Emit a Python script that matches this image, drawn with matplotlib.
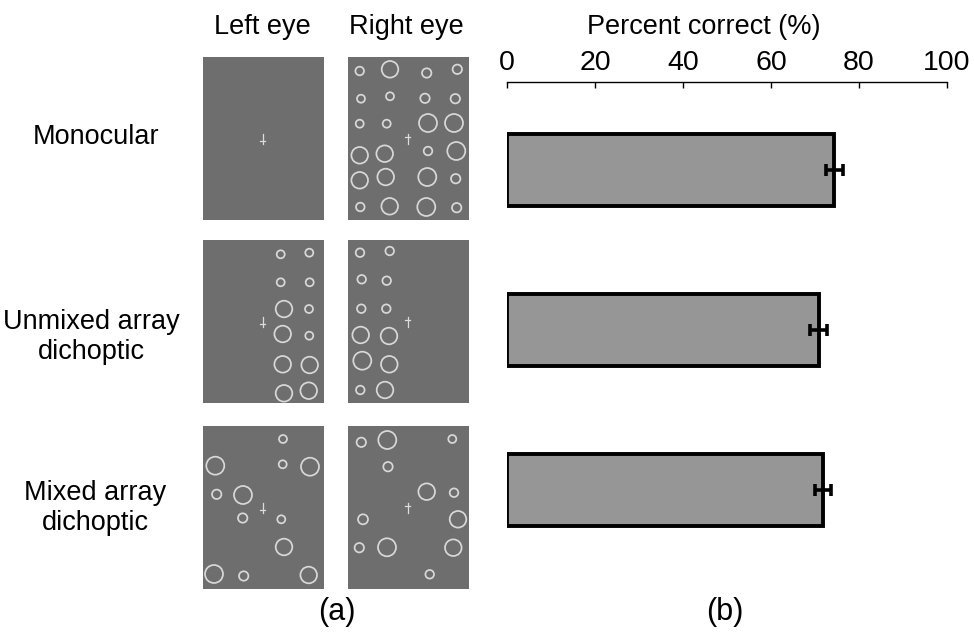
import matplotlib
matplotlib.use('Agg')
import matplotlib.pyplot as plt
from matplotlib.patches import Circle

plt.rcParams['font.family'] = ['Liberation Sans', 'DejaVu Sans']

# data
conditions = ['Monocular', 'Unmixed array\ndichoptic', 'Mixed array\ndichoptic']
pct_correct = [74.4, 70.8, 71.8]
pct_err = [1.9, 1.9, 1.8]
ticks = [0, 20, 40, 60, 80, 100]

# stimulus circles (x, y, r) in panel pixels, panel is 121 x 163
mono_left = []
mono_right = [(11.7, 14, 4.3), (42, 12.3, 8.3), (78.7, 16, 4.7), (109.3, 12.3, 4.7),
              (13, 41.7, 4), (42, 39.3, 4), (77, 41.3, 4.7), (107.3, 41.7, 4.7),
              (11.7, 66.7, 4), (38.7, 66.7, 4), (80, 66, 9), (106, 66, 9),
              (11.7, 98.3, 8.3), (36.7, 96.7, 8.3), (80, 94, 4.3), (108.3, 94, 9),
              (11.7, 123.3, 8.3), (37.7, 120, 8.3), (79.3, 120, 9), (107.7, 121.7, 4.7),
              (12.3, 150, 4.3), (41.7, 149.3, 8.3), (78.3, 150, 9), (108.7, 150.7, 4.7)]
unmixed_left = [(77.7, 14.3, 4), (106.3, 12.7, 4), (77.7, 42.3, 4), (106.7, 42.3, 4),
                (81, 69, 8.3), (106, 69, 4), (79.7, 94, 8.3), (106.3, 95.7, 4),
                (79.7, 124.3, 8.3), (106.7, 125, 8.3), (81, 153.3, 8.3), (105.7, 150.7, 8.3)]
unmixed_right = [(12, 12.7, 4.3), (41.7, 11, 4.3), (13.7, 39.3, 4.3), (38.7, 40.7, 4.3),
                 (13.3, 68.7, 4.3), (38.3, 68.7, 4.3), (12.7, 95, 8.3), (41, 96, 8.3),
                 (14.3, 120.7, 9), (41.3, 124.3, 8.3), (12.3, 150, 4.3), (37, 150, 8.3)]
mixed_left = [(80, 13, 4), (12.3, 39.7, 9), (79.7, 38.3, 4), (107, 40.7, 9),
              (13.7, 68.3, 4.7), (40, 69, 9), (78.3, 93.3, 4), (39.7, 92, 4.7),
              (81, 121, 8.3), (11, 148, 9), (40.7, 150, 4.7), (105.7, 149, 8.3)]
mixed_right = [(13.3, 16.3, 4.7), (39.3, 14, 9), (104.3, 13, 4), (40, 40.7, 4.7),
               (78.7, 65.7, 8.3), (106, 66.7, 4.3), (15, 93.3, 5), (110, 93.3, 8.3),
               (11.3, 121.7, 4.7), (39, 121.3, 9), (105.3, 121.7, 8.3), (81.7, 148.3, 4.3)]
stimuli = [(mono_left, mono_right), (unmixed_left, unmixed_right), (mixed_left, mixed_right)]

W, H = 974, 635
fig = plt.figure(figsize=(W / 100, H / 100), dpi=100)

def fig_axes(x0, y0, w, h):
    # pixel box (top-left origin) -> figure axes
    return fig.add_axes([x0 / W, 1 - (y0 + h) / H, w / W, h / H])

#stimulus panels
row_tops = [57, 240, 426]
for row, (left, right) in enumerate(stimuli):
    for col, circles in enumerate([left, right]):
        ax = fig_axes([203, 348][col], row_tops[row], 121, 163)
        ax.set_facecolor('#6e6e6e')
        ax.set_xlim(0, 121)
        ax.set_ylim(163, 0)
        ax.set_xticks([])
        ax.set_yticks([])
        for s in ax.spines.values():
            s.set_visible(False)
        for (cx, cy, r) in circles:
            ax.add_patch(Circle((cx, cy), r, fill=False, ec='#d8d8d8', lw=1.25))
        # fixation cross
        cx, cy = 59.5, 81.5
        hy = cy + 2 if col == 0 else cy - 2
        ax.plot([cx, cx], [cy - 5, cy + 5], color='#dcdcdc', lw=0.9)
        ax.plot([cx - 2.5, cx + 2.5], [hy, hy], color='#dcdcdc', lw=0.9)

fig.text(262 / W, 1 - 27 / H, 'Left eye', ha='center', va='center', fontsize=19.5)
fig.text(406 / W, 1 - 27 / H, 'Right eye', ha='center', va='center', fontsize=19.5)

label_pos = [(96, 137), (91, 337), (95, 508)]
for lab, (lx, ly) in zip(conditions, label_pos):
    fig.text(lx / W, 1 - ly / H, lab, ha='center', va='center', fontsize=19.5,
             linespacing=1.18)

#bar chart
axb = fig_axes(507, 82, 440, 496)
y = list(range(len(conditions)))
axb.barh(y, pct_correct, height=0.45, color='#969696', edgecolor='black', linewidth=2.8)
axb.errorbar(pct_correct, y, xerr=pct_err, fmt='none', ecolor='black',
             elinewidth=2.6, capsize=4.5, capthick=2.6)
axb.set_xlim(0, 100)
axb.set_ylim(2.55, -0.55)
axb.set_xticks(ticks)
axb.xaxis.tick_top()
axb.tick_params(axis='x', direction='in', length=4, width=1, pad=4, labelsize=20.5)
axb.set_yticks([])
for side in ['bottom', 'left', 'right']:
    axb.spines[side].set_visible(False)
axb.spines['top'].set_linewidth(1)

fig.text(704 / W, 1 - 27 / H, 'Percent correct (%)', ha='center', va='center', fontsize=19.5)
fig.text(337 / W, 1 - 612 / H, '(a)', ha='center', va='center', fontsize=22)
fig.text(725 / W, 1 - 612 / H, '(b)', ha='center', va='center', fontsize=22)

fig.savefig('out.png', dpi=100)
